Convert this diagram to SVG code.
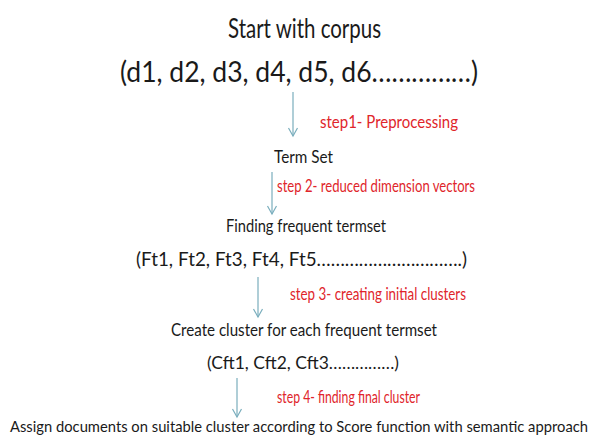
<svg xmlns="http://www.w3.org/2000/svg" width="597" height="441" viewBox="0 0 597 441">
<style>
text{font-family:Lato,"Open Sans","DejaVu Sans",sans-serif;fill:#1a1a1a}
.red{fill:#e0252b}
.arr{stroke:#7aaebd;stroke-width:1.2;fill:none}
</style>
<defs>
<marker id="ah" markerWidth="12" markerHeight="12" refX="9" refY="6" orient="auto" markerUnits="userSpaceOnUse" viewBox="0 0 12 12">
<path d="M1,1.5 L9,6 L1,10.5" stroke="#7aaebd" stroke-width="1.2" fill="none"/>
</marker>
</defs>
<rect width="597" height="441" fill="#fff"/>
<g id="connectors">
<line class="arr" x1="293" y1="92" x2="293" y2="136" marker-end="url(#ah)"/>
<line class="arr" x1="272" y1="172" x2="272" y2="214" marker-end="url(#ah)"/>
<line class="arr" x1="258" y1="277" x2="258" y2="317" marker-end="url(#ah)"/>
<line class="arr" x1="237" y1="378" x2="237" y2="417" marker-end="url(#ah)"/>
</g>
<g id="start"><text x="228" y="38" font-size="27" textLength="153" lengthAdjust="spacingAndGlyphs">Start with corpus</text></g>
<g id="docs"><text x="120" y="82" font-size="29" textLength="358" lengthAdjust="spacingAndGlyphs">(d1,  d2,   d3,   d4, d5,   d6……………)</text></g>
<g id="step1"><text class="red" x="320" y="128" font-size="18" textLength="138" lengthAdjust="spacingAndGlyphs">step1- Preprocessing</text></g>
<g id="termset"><text x="274" y="163" font-size="17" textLength="59" lengthAdjust="spacingAndGlyphs">Term Set</text></g>
<g id="step2"><text class="red" x="277" y="192" font-size="18" textLength="198" lengthAdjust="spacingAndGlyphs">step 2- reduced dimension vectors</text></g>
<g id="finding"><text x="226" y="232" font-size="17" textLength="160" lengthAdjust="spacingAndGlyphs">Finding frequent termset</text></g>
<g id="ft"><text x="136" y="266" font-size="19" textLength="331" lengthAdjust="spacingAndGlyphs">(Ft1, Ft2,  Ft3,  Ft4,  Ft5………………………….)</text></g>
<g id="step3"><text class="red" x="290" y="300" font-size="18" textLength="176" lengthAdjust="spacingAndGlyphs">step 3- creating initial clusters</text></g>
<g id="create"><text x="171" y="336" font-size="18" textLength="266" lengthAdjust="spacingAndGlyphs">Create cluster for each frequent termset</text></g>
<g id="cft"><text x="207" y="369" font-size="18" textLength="192" lengthAdjust="spacingAndGlyphs">(Cft1, Cft2, Cft3……………)</text></g>
<g id="step4"><text class="red" x="277" y="403" font-size="18" textLength="143" lengthAdjust="spacingAndGlyphs">step 4- finding final cluster</text></g>
<g id="assign"><text x="10" y="432" font-size="16" textLength="578" lengthAdjust="spacingAndGlyphs">Assign documents on suitable cluster according to Score function with semantic approach</text></g>
</svg>
